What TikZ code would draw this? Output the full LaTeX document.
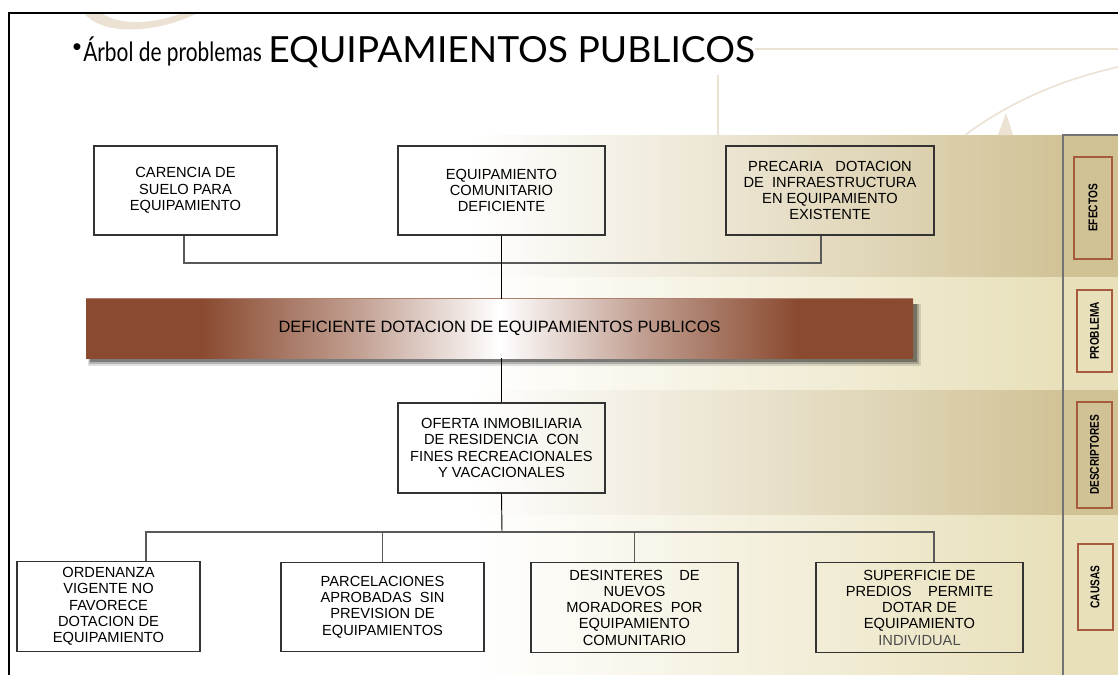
\documentclass[tikz,border=0pt]{standalone}
\usepackage{fontspec}
\usepackage{graphicx}
\setmainfont{Liberation Sans}
\newfontfamily\titlefont{Lato}
\usetikzlibrary{calc}
\definecolor{brn}{RGB}{138,74,48}
\definecolor{tanA}{RGB}{209,194,150}
\definecolor{tanB}{RGB}{232,224,186}
\definecolor{deco}{RGB}{236,226,211}
\definecolor{lblbrd}{RGB}{168,90,60}
\pgfdeclarehorizontalshading{barshade}{100bp}{color(0bp)=(brn); color(32bp)=(brn); color(41bp)=(brn!55!white); color(50bp)=(white); color(59bp)=(brn!55!white); color(68bp)=(brn); color(100bp)=(brn)}
\tikzset{
  box/.style={draw=black!80, line width=0.9pt, inner sep=2pt, align=center,
    font=\fontsize{11}{12.2}\selectfont},
  lbl/.style={draw=lblbrd, line width=1.5pt, rotate=90, inner sep=0pt,
    font=\bfseries\fontsize{9.5}{10}\selectfont},
  conn/.style={draw=black!65, line width=1.3pt},
  spine/.style={draw=black, line width=0.7pt},
}
\begin{document}
\begin{tikzpicture}[x=0.75pt,y=-0.75pt]
\useasboundingbox (0,0) rectangle (1118,675);
\fill[white] (0,0) rectangle (1118,675);
% background bands
\shade[left color=white, right color=tanA] (470,135) rectangle (1063,277);
\shade[left color=white, right color=tanB] (470,277) rectangle (1063,390);
\shade[left color=white, right color=tanA] (470,390) rectangle (1063,515);
\shade[left color=white, right color=tanB] (470,515) rectangle (1063,675);
\fill[tanA] (1063,135) rectangle (1118,277);
\fill[tanB] (1063,277) rectangle (1118,390);
\fill[tanA] (1063,390) rectangle (1118,515);
\fill[tanB] (1063,515) rectangle (1118,675);
\draw[black!55, line width=0.9pt] (1063,675) -- (1063,135) -- (1118,135);
% faint decorations
\draw[deco, line width=1pt] (755,49) -- (1118,49);
\draw[deco, line width=1pt] (718,75) -- (718,135);
\draw[deco, line width=1.2pt] (965,135) .. controls (1010,102) and (1060,80) .. (1118,67);
\fill[deco] (998,135) -- (1006,113) -- (1013,135) -- cycle;
\fill[deco] (84,13) .. controls (100,34) and (150,36) .. (198,13) -- (182,13) .. controls (150,26) and (115,24) .. (102,13) -- cycle;
% frame
\draw[black, line width=1.9pt] (9,675) -- (9,13) -- (1118,13);
% title
\node[inner sep=0, font=\fontsize{19}{19}\selectfont] (bul) at (77,50) {•};
\node[anchor=base west, inner sep=0, font=\titlefont\fontsize{20}{20}\selectfont] (t1) at (83,61) {\resizebox{134pt}{\height}{Árbol de problemas}};
\node[anchor=base west, inner sep=0, font=\titlefont\fontsize{27}{27}\selectfont] (t2) at (268,62) {\resizebox{365pt}{\height}{EQUIPAMIENTOS PUBLICOS}};
% effects
\node[box, minimum width=137.25pt, minimum height=66.75pt] (carencia) at (185.5,190.5) {CARENCIA DE\\SUELO PARA\\EQUIPAMIENTO};
\node[box, minimum width=155.25pt, minimum height=66.75pt] (equip) at (501.5,190.5) {EQUIPAMIENTO\\COMUNITARIO\\DEFICIENTE};
\node[box, minimum width=156pt, minimum height=66.75pt] (precaria) at (830,190.5) {PRECARIA\ \ \ DOTACION\\DE\ \ INFRAESTRUCTURA\\EN EQUIPAMIENTO\\EXISTENTE};
% problem bar
\fill[black, opacity=0.12] (88,304) rectangle (921,366);
\fill[black, opacity=0.2] (89,304) rectangle (919,364);
\fill[black, opacity=0.3] (90,304) rectangle (917,362);
\node[shade, shading=barshade, minimum width=620.25pt, minimum height=44.25pt, inner sep=0pt, font=\fontsize{12.3}{13}\selectfont] (bar) at (499.5,328.5) {DEFICIENTE DOTACION DE EQUIPAMIENTOS PUBLICOS};
\draw[brn!70!white, line width=0.6pt] (bar.north west) -- (bar.north east);
% descriptor
\node[box, minimum width=155.25pt, minimum height=67.5pt] (oferta) at (501.5,448) {OFERTA INMOBILIARIA\\DE RESIDENCIA\ \ CON\\FINES RECREACIONALES\\Y VACACIONALES};
% causes
\node[box, minimum width=137.25pt, minimum height=67pt] (ordenanza) at (108.5,606.5) {ORDENANZA\\VIGENTE NO\\FAVORECE\\DOTACION DE\\EQUIPAMIENTO};
\node[box, minimum width=152.25pt, minimum height=67pt] (parcel) at (382.5,607) {PARCELACIONES\\APROBADAS\ \ SIN\\PREVISION DE\\EQUIPAMIENTOS};
\node[box, minimum width=155.25pt, minimum height=67pt] (desint) at (634.5,607.5) {DESINTERES\ \ \ \ DE\\NUEVOS\\MORADORES\ \ POR\\EQUIPAMIENTO\\COMUNITARIO};
\node[box, minimum width=155.25pt, minimum height=67pt] (superf) at (919.5,607.5) {SUPERFICIE DE\\PREDIOS\ \ \ \ PERMITE\\DOTAR DE\\EQUIPAMIENTO\\\textcolor{black!70}{INDIVIDUAL}};
% connectors
\coordinate (jt) at (502,263);
\coordinate (jb) at (502,532);
\draw[conn] ($(carencia.south)+(-1.5,0)$) |- (jt) -| ($(precaria.south)+(-9,0)$);
\draw[spine] (equip.south) -- (equip.south |- bar.north);
\draw[spine] (oferta.north |- bar.south) -- (oferta.north);
\draw[spine] (oferta.south) -- (jb);
\draw[conn] ($(ordenanza.north)+(37.5,0)$) |- (jb) -| ($(superf.north)+(14.5,0)$);
\draw[conn] (parcel.north) -- (parcel.north |- jb);
\draw[conn] (desint.north) -- (desint.north |- jb);
% side labels
\node[lbl, minimum width=76.5pt, minimum height=28.5pt] (efectos) at (1093,208) {\scalebox{0.8}[1]{EFECTOS}};
\node[lbl, minimum width=61.5pt, minimum height=26.25pt] (problema) at (1094.5,331) {\scalebox{0.8}[1]{PROBLEMA}};
\node[lbl, minimum width=80pt, minimum height=26.25pt] (descript) at (1094.5,455) {\scalebox{0.8}[1]{DESCRIPTORES}};
\node[lbl, minimum width=64.5pt, minimum height=26.25pt] (causas) at (1095,587) {\scalebox{0.8}[1]{CAUSAS}};
\end{tikzpicture}
\end{document}
